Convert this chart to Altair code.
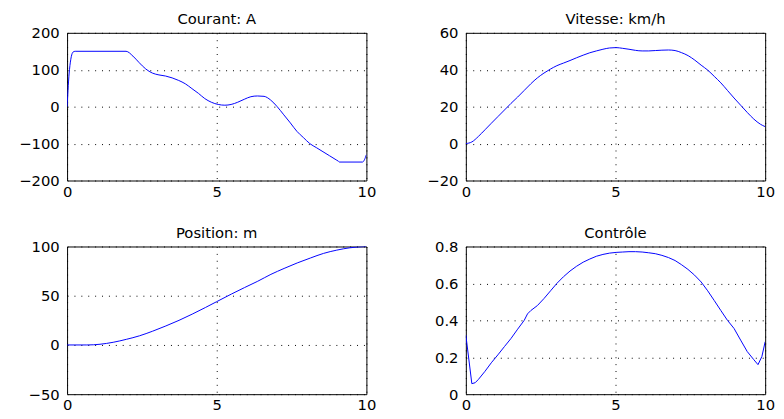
import altair as alt
import pandas as pd

# ---- data ----
t_courant = [0, 0.08, 0.2, 0.27, 1.97, 2.2, 2.4, 2.63, 2.85, 3.07, 3.29, 3.51, 3.73, 3.95,
             4.17, 4.39, 4.6, 4.82, 5.05, 5.27, 5.48, 5.7, 5.92, 6.14, 6.36, 6.58, 6.8,
             7.02, 7.24, 7.46, 7.68, 7.9, 8.11, 8.33, 8.55, 8.77, 8.99, 9.07, 9.1, 9.87, 10]
courant = [0, 100, 148, 150, 150, 137, 120, 102, 91, 86, 83, 78, 71, 62,
           49, 36, 22, 12, 6, 4, 6, 12, 20, 27, 29, 28, 18,
           0, -22, -44, -67, -84, -100, -111, -122, -133, -144, -148, -150, -150, -130]

t_vitesse = [0, 0.2, 0.42, 0.64, 0.85, 1.07, 1.29, 1.51, 1.73, 1.95, 2.17, 2.39, 2.61, 2.83,
             3.04, 3.26, 3.48, 3.7, 3.92, 4.14, 4.36, 4.58, 4.8, 5.02, 5.24, 5.45, 5.67,
             5.89, 6.11, 6.33, 6.55, 6.77, 6.99, 7.2, 7.43, 7.65, 7.86, 8.08, 8.3, 8.52,
             8.74, 8.96, 9.18, 9.4, 9.62, 9.84, 10]
vitesse = [0, 0.9, 3.9, 7.5, 11, 14.6, 18.2, 21.8, 25.2, 28.8, 32.4, 35.6, 38.2, 40.4,
           42.2, 43.6, 45, 46.5, 47.9, 49.2, 50.2, 51.1, 51.8, 52, 51.6, 51.1, 50.5,
           50.2, 50.2, 50.4, 50.6, 50.7, 50.4, 49.3, 47.6, 45.2, 42.5, 39.8, 36.4, 32.9,
           28.8, 24.7, 20.8, 16.9, 13.3, 10.5, 9.2]

t_position = [0, 0.66, 1.1, 1.54, 1.98, 2.42, 2.86, 3.3, 3.74, 4.18, 4.62, 5, 5.49, 5.93,
              6.37, 6.81, 7.25, 7.69, 8.13, 8.57, 9.01, 9.45, 10]
position = [0, 0, 0.7, 2.7, 5.7, 9.3, 14, 19.3, 25, 31.3, 38, 44, 51.7, 58.3,
            64.7, 71.7, 77.7, 83.3, 88.3, 93, 96.3, 98.7, 100]

t_controle = [0, 0.2, 0.31, 0.42, 0.64, 0.85, 1.07, 1.29, 1.51, 1.73, 1.95, 2.06, 2.17, 2.39,
              2.61, 2.83, 3.04, 3.26, 3.48, 3.7, 3.92, 4.14, 4.36, 4.58, 4.8, 5.02, 5.24,
              5.45, 5.67, 5.89, 6.11, 6.33, 6.55, 6.77, 6.99, 7.2, 7.42, 7.64, 7.86, 8.08,
              8.3, 8.52, 8.74, 8.96, 9.18, 9.4, 9.62, 9.76, 9.89, 10]
controle = [0.32, 0.057, 0.062, 0.08, 0.124, 0.17, 0.213, 0.258, 0.302, 0.352, 0.4, 0.435,
            0.453, 0.48, 0.518, 0.56, 0.6, 0.636, 0.667, 0.693, 0.715, 0.732, 0.747, 0.757,
            0.764, 0.768, 0.77, 0.772, 0.772, 0.77, 0.766, 0.761, 0.752, 0.74, 0.724, 0.702,
            0.676, 0.645, 0.608, 0.56, 0.507, 0.453, 0.4, 0.356, 0.293, 0.231, 0.187, 0.16,
            0.204, 0.284]

titles = ["Courant: A", "Vitesse: km/h", "Position: m", "Contrôle"]
y_domains = [[-200, 200], [-20, 60], [-50, 100], [0, 0.8]]
y_ticks = [[-200, -100, 0, 100, 200], [-20, 0, 20, 40, 60], [-50, 0, 50, 100],
           [0, 0.2, 0.4, 0.6, 0.8]]
x_ticks = [0, 5, 10]

FONT = "DejaVu Sans"


def panel(ts, vs, title, dom, ticks, interp):
    df = pd.DataFrame({"t": ts, "v": vs})
    return alt.Chart(df, title=alt.TitleParams(title, fontSize=15, font=FONT,
                                               fontWeight="normal", offset=-1,
                                               color="black")).mark_line(
        color="#0000ff", strokeWidth=1, interpolate=interp, clip=True
    ).encode(
        x=alt.X("t:Q", scale=alt.Scale(domain=[0, 10], nice=False),
                axis=alt.Axis(values=x_ticks, title=None, format="~r", labelFlush=False,
                              minExtent=22, maxExtent=22, labelPadding=4)),
        y=alt.Y("v:Q", scale=alt.Scale(domain=dom, nice=False, zero=False),
                axis=alt.Axis(values=ticks, title=None, format="~r",
                              minExtent=59, maxExtent=59, labelPadding=8)),
    ).properties(width=304, height=150)


p = [panel(t, v, ti, d, tk, ip) for t, v, ti, d, tk, ip in zip(
    [t_courant, t_vitesse, t_position, t_controle],
    [courant, vitesse, position, controle], titles, y_domains, y_ticks,
    ["monotone", "monotone", "monotone", "linear"])]

chart = alt.concat(
    *p, columns=2, spacing=alt.RowColnumber(row=67, column=101), bounds="flush"
).properties(padding=0).configure_view(
    stroke="black", strokeWidth=1
).configure_axis(
    ticks=False, domain=False, grid=True, gridColor="black", gridOpacity=1,
    gridDash=[1, 6], gridWidth=1, labelFont=FONT, labelFontSize=15, labelColor="black"
)

chart.save("out.html", embed_options={"renderer": "svg", "actions": False})
